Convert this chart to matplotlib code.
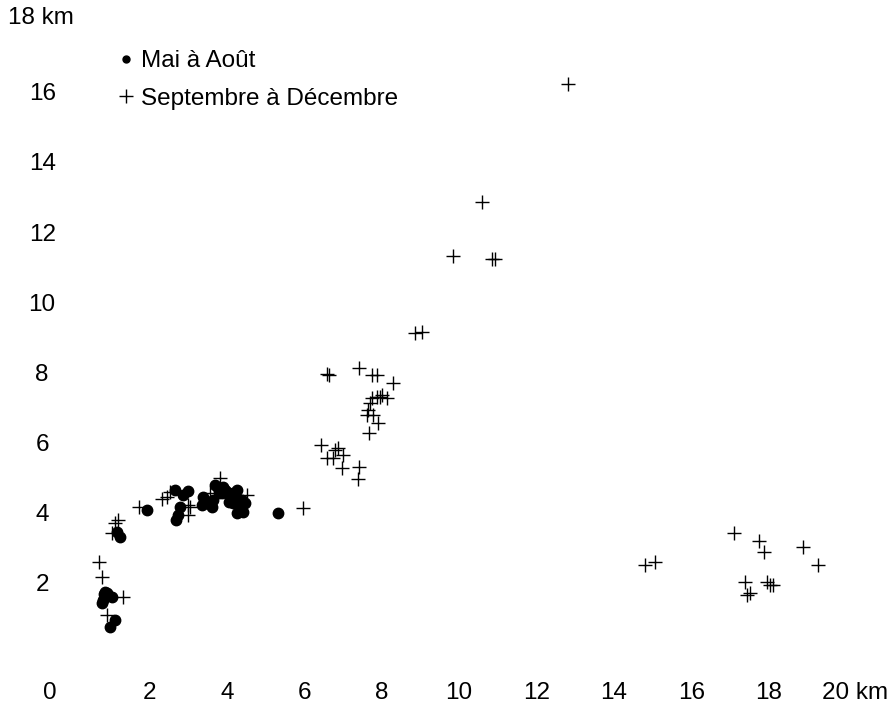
import matplotlib
matplotlib.use("Agg")
import matplotlib.pyplot as plt
from matplotlib.lines import Line2D

plt.rcParams['font.family'] = ['Liberation Sans', 'DejaVu Sans']

# Mai a Aout (dots), distance in km
mai_x = [0.85, 0.93, 1.03, 0.80, 0.78, 0.90, 0.88, 0.83, 1.11, 0.98,
         1.16, 1.24, 1.94, 2.66, 2.87, 3.00, 2.79, 2.74, 2.69, 3.39,
         3.36, 3.49, 3.62, 3.64, 3.77, 3.90, 4.01, 4.08, 4.26, 4.16,
         4.34, 4.47, 4.26, 4.42, 3.70, 3.88, 3.95, 4.15, 4.30, 4.40,
         3.80, 4.05, 5.32]
mai_y = [1.75, 1.66, 1.60, 1.52, 1.43, 1.70, 1.62, 1.68, 0.95, 0.75,
         3.45, 3.31, 4.08, 4.65, 4.51, 4.63, 4.17, 3.94, 3.80, 4.45,
         4.23, 4.28, 4.17, 4.37, 4.71, 4.74, 4.60, 4.45, 4.65, 4.28,
         4.17, 4.28, 4.00, 4.03, 4.80, 4.57, 4.65, 4.55, 4.40, 4.35,
         4.55, 4.30, 4.00]

# Septembre a Decembre (pluses)
sep_x = [0.70, 0.78, 1.32, 0.90, 1.19, 1.11, 1.03, 1.73, 2.33, 2.45,
         2.53, 3.00, 3.00, 3.05, 3.82, 3.57, 4.52, 5.97,
         8.86, 9.04, 6.59, 6.64, 7.42, 7.75, 7.88, 8.29, 7.88, 8.01,
         8.14, 7.96, 7.75, 7.70, 7.65, 7.62, 7.78, 7.91, 7.67, 6.43,
         6.80, 6.87, 6.59, 6.74, 7.00, 6.98, 7.42, 7.39,
         12.82, 10.59, 9.84, 10.85, 10.93,
         14.81, 15.06, 17.11, 17.75, 17.88, 18.89, 19.28, 17.39, 17.44,
         17.52, 17.96, 18.04, 18.11]
sep_y = [2.60, 2.17, 1.60, 1.09, 3.80, 3.71, 3.43, 4.17, 4.40, 4.45,
         4.60, 4.23, 3.94, 4.17, 5.00, 4.57, 4.51, 4.14,
         9.13, 9.16, 7.96, 7.93, 8.13, 7.93, 7.93, 7.71, 7.30, 7.36,
         7.28, 7.30, 7.28, 7.14, 6.94, 6.79, 6.79, 6.56, 6.28, 5.94,
         5.79, 5.85, 5.57, 5.57, 5.65, 5.28, 5.31, 4.97,
         16.23, 12.86, 11.33, 11.24, 11.24,
         2.52, 2.60, 3.43, 3.20, 2.89, 3.03, 2.52, 2.03, 1.66,
         1.71, 2.03, 1.95, 1.95]

xticks = [2, 4, 6, 8, 10, 12, 14, 16, 18]
yticks = [2, 4, 6, 8, 10, 12, 14, 16]
labels = ['Mai à Août', 'Septembre à Décembre']

fs = 17.5
fig = plt.figure(figsize=(8.95, 7.11), dpi=100)
ax = fig.add_axes([72 / 895, 58 / 711, 774 / 895, 631.3 / 711])
ax.set_xlim(0, 20)
ax.set_ylim(0, 18)

ax.plot(mai_x, mai_y, 'o', color='black', markersize=7.5, linestyle='none')
ax.plot(sep_x, sep_y, '+', color='black', markersize=10, markeredgewidth=1.0,
        linestyle='none')

for s in ax.spines.values():
    s.set_visible(False)
ax.set_xticks(xticks)
ax.set_xticklabels([str(t) for t in xticks])
ax.set_yticks(yticks)
ax.set_yticklabels([str(t) for t in yticks], ha='center')
ax.tick_params(axis='x', length=0, pad=21, labelsize=fs)
ax.tick_params(axis='y', length=0, pad=21.5, labelsize=fs)

# last x label carries the unit, drawn apart so it can sit left of the edge
fig.text(888 / 895, 1 - 693 / 711, '20 km', fontsize=fs, ha='right', va='center')
fig.text(50 / 895, 1 - 693 / 711, '0', fontsize=fs, ha='center', va='center')
fig.text(8 / 895, 1 - 18 / 711, '18 km', fontsize=fs, ha='left', va='center')

handles = [Line2D([], [], marker='o', color='black', markersize=5, linestyle='none'),
           Line2D([], [], marker='+', color='black', markersize=10,
                  markeredgewidth=1.0, linestyle='none')]
fig.legend(handles, labels, loc='upper left', bbox_to_anchor=(119 / 895, 1 - 50 / 711),
           frameon=False, fontsize=fs, handlelength=0.6, handletextpad=0.3,
           borderpad=0, borderaxespad=0, labelspacing=0.65)

fig.savefig('out.png', dpi=100)
